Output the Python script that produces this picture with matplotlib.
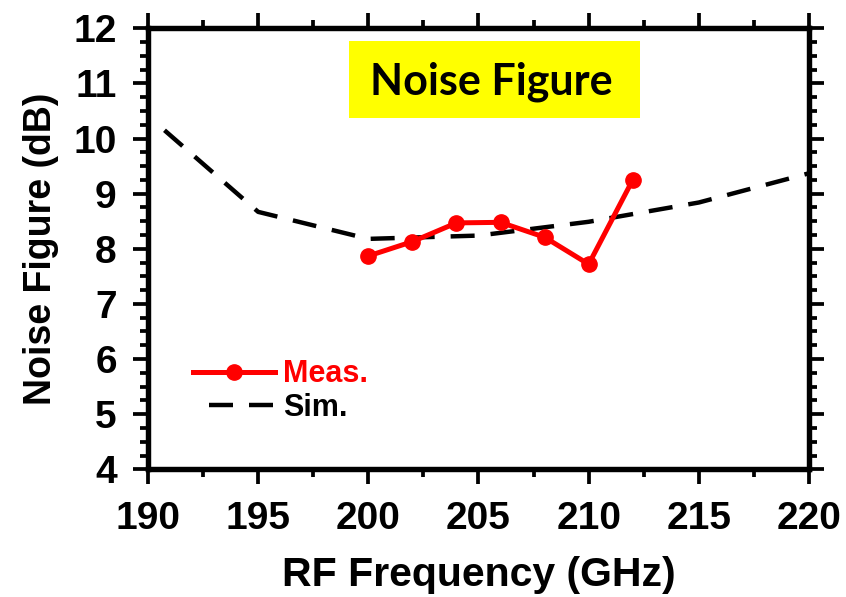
import matplotlib
matplotlib.use("Agg")
import matplotlib.pyplot as plt
from matplotlib.lines import Line2D
from matplotlib.patches import Rectangle
from matplotlib.ticker import MultipleLocator

# Measured noise figure
meas_freq = [200, 202, 204, 206, 208, 210, 212]
meas_nf = [7.87, 8.13, 8.47, 8.48, 8.21, 7.72, 9.25]

# Simulated noise figure
sim_freq = [190.75, 195, 200, 205, 210, 215, 220]
sim_nf = [10.15, 8.67, 8.18, 8.24, 8.49, 8.84, 9.37]

x_ticks = [190, 195, 200, 205, 210, 215, 220]
y_ticks = [4, 5, 6, 7, 8, 9, 10, 11, 12]

plt.rcParams["font.family"] = ["Liberation Sans", "DejaVu Sans"]
plt.rcParams["font.weight"] = "bold"

fig = plt.figure(figsize=(8.46, 5.97), dpi=100)
ax = fig.add_axes([0.1749, 0.2139, 0.7814, 0.7387])

sim_lw = 3.2
sim_dash = (5.4, 3.6)
ax.plot(sim_freq, sim_nf, color="black", lw=sim_lw,
        linestyle=(0, sim_dash), dash_capstyle="butt", zorder=2)
ax.plot(meas_freq, meas_nf, color="#FF0000", lw=3.6, marker="o",
        markersize=11, zorder=3)

ax.set_xlim(190, 220)
ax.set_ylim(4, 12)
ax.set_xticks(x_ticks)
ax.set_yticks(y_ticks)
ax.xaxis.set_minor_locator(MultipleLocator(2.5))
ax.yaxis.set_minor_locator(MultipleLocator(0.25))

for s in ax.spines.values():
    s.set_linewidth(3.9)

ax.tick_params(which="both", direction="out", top=True, right=True,
               width=2.7, labelsize=28)
ax.tick_params(which="major", length=10.5, pad=12)
ax.tick_params(which="minor", length=6)
for lab in ax.get_xticklabels() + ax.get_yticklabels():
    lab.set_fontweight("bold")

ax.set_xlabel("RF Frequency (GHz)", fontsize=29.5, fontweight="bold",
              labelpad=14)
ax.set_ylabel("Noise Figure (dB)", fontsize=27, fontweight="bold",
              labelpad=10)

# Title badge
ax.add_patch(Rectangle((0.3045, 0.796), 0.4405, 0.1746,
                       transform=ax.transAxes, facecolor="#FFFF00",
                       edgecolor="none", zorder=1))
ax.text(0.5197, 0.849, "Noise Figure", transform=ax.transAxes,
        ha="center", va="baseline", fontsize=31, fontweight="bold",
        family=["Lato", "DejaVu Sans"], color="black", zorder=4)

# Legend
meas_handle = Line2D([], [], color="#FF0000", lw=3.6, marker="o",
                     markersize=11)
sim_handle = Line2D([], [], color="black", lw=sim_lw,
                    linestyle=(5.4, sim_dash), dash_capstyle="butt")
leg = ax.legend([meas_handle, sim_handle], ["Meas.", "Sim."],
                loc="center left", bbox_to_anchor=(0.068, 0.1776),
                frameon=False, fontsize=22, numpoints=1,
                handlelength=2.68, handletextpad=0.26,
                labelspacing=0.1, borderpad=0, borderaxespad=0)
for txt, col in zip(leg.get_texts(), ["#FF0000", "black"]):
    txt.set_color(col)
    txt.set_fontweight("bold")

fig.savefig("out.png", dpi=100)
